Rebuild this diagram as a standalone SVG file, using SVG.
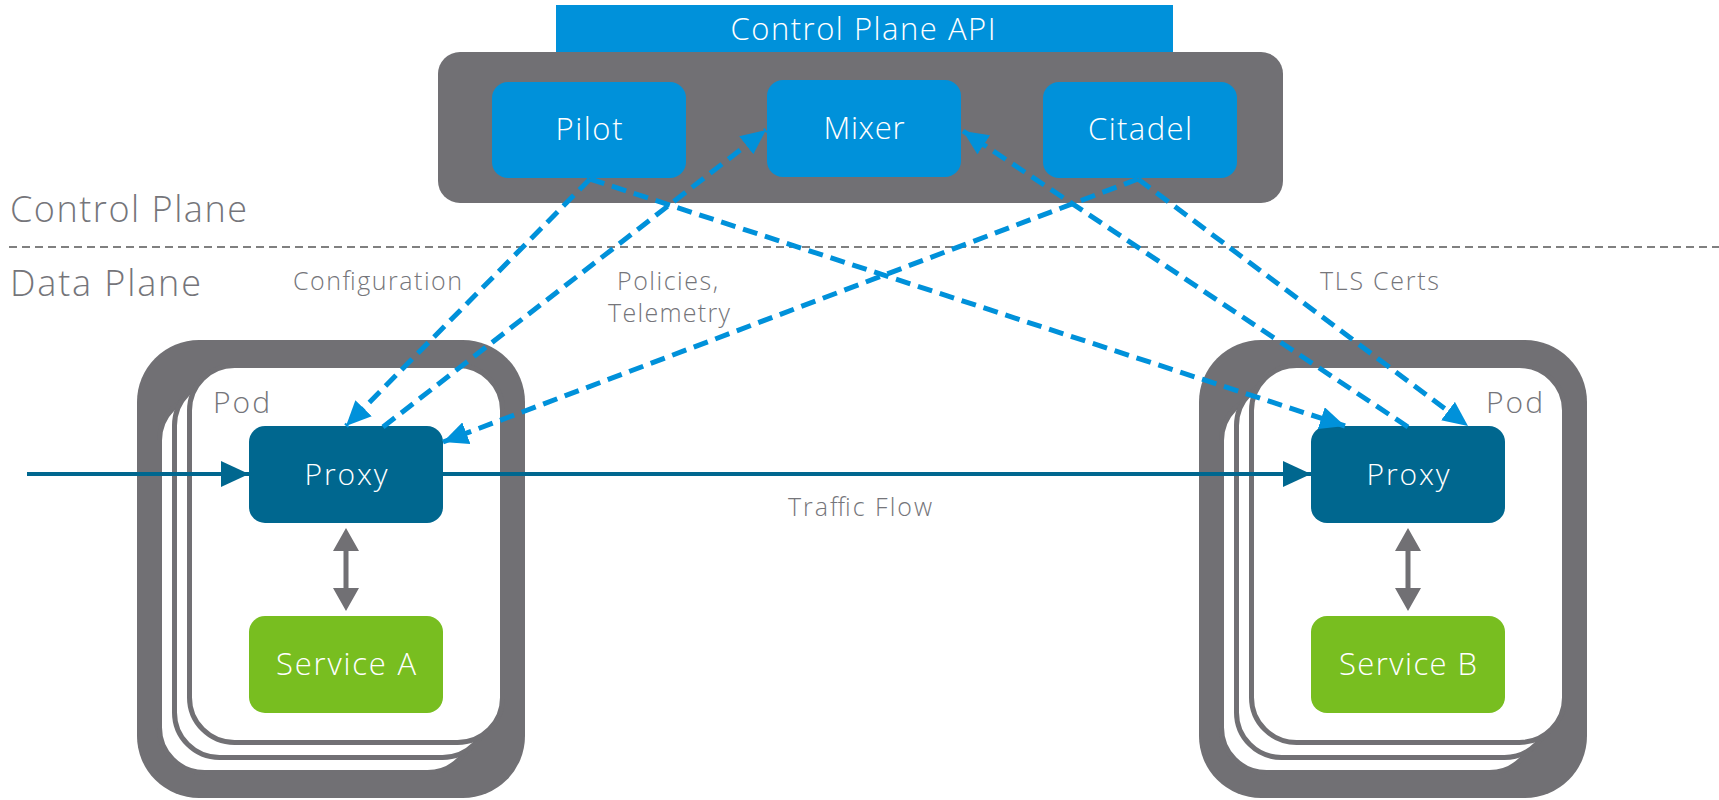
<svg xmlns="http://www.w3.org/2000/svg" width="1719" height="800" viewBox="0 0 1719 800">
<style>
text{font-family:"Open Sans","Liberation Sans",sans-serif;font-weight:300}
.wt{fill:#ffffff;text-anchor:middle}
.gt{fill:#75757a}
.lbl{fill:#75757a;font-size:25px;text-anchor:middle}
.cp{fill:#0091DA}
.gray{fill:#717074}
.card{fill:#ffffff;stroke:#717074;stroke-width:5}
.proxy{fill:#00678F}
.svc{fill:#78BE20}
.dash{fill:none;stroke:#0091DA;stroke-width:5;stroke-dasharray:15 8}
.traffic{fill:none;stroke:#00678F;stroke-width:4}
</style>
<defs>
<marker id="ba" markerWidth="25" markerHeight="23" refX="25" refY="11.5" orient="auto" markerUnits="userSpaceOnUse"><path d="M0,0 L25,11.5 L0,23 Z" fill="#0091DA"/></marker>
<marker id="ta" markerWidth="28" markerHeight="26" refX="28" refY="13" orient="auto" markerUnits="userSpaceOnUse"><path d="M0,0 L28,13 L0,26 Z" fill="#00678F"/></marker>
</defs>

<g id="plane-labels">
<text class="gt" x="10" y="222" font-size="36" textLength="237" lengthAdjust="spacing">Control Plane</text>
<line x1="9" y1="247" x2="1719" y2="247" stroke="#808080" stroke-width="2" stroke-dasharray="8 5"/>
<text class="gt" x="10" y="296" font-size="36" textLength="191" lengthAdjust="spacing">Data Plane</text>
</g>

<g id="control-plane">
<rect class="cp" x="556" y="5" width="617" height="47"/>
<text class="wt" x="863" y="40" font-size="31" textLength="265" lengthAdjust="spacing">Control Plane API</text>
<rect class="gray" x="438" y="52" width="845" height="151" rx="22"/>
</g>
<g id="pilot">
<rect class="cp" x="492" y="82" width="194" height="96" rx="16"/>
<text class="wt" x="589" y="140" font-size="31" textLength="67" lengthAdjust="spacing">Pilot</text>
</g>
<g id="mixer">
<rect class="cp" x="767" y="80" width="194" height="97" rx="16"/>
<text class="wt" x="864" y="139" font-size="31" textLength="81" lengthAdjust="spacing">Mixer</text>
</g>
<g id="citadel">
<rect class="cp" x="1043" y="82" width="194" height="96" rx="16"/>
<text class="wt" x="1140" y="140" font-size="31" textLength="104" lengthAdjust="spacing">Citadel</text>
</g>

<g id="pod-a">
<rect class="gray" x="137" y="340" width="388" height="458" rx="62"/>
<rect class="card" x="159.5" y="395.5" width="313" height="377" rx="45"/>
<rect class="card" x="174.5" y="380.5" width="313" height="377" rx="45"/>
<rect class="card" x="189.5" y="365.5" width="313" height="377" rx="45"/>
<text class="gt" x="213" y="413" font-size="30" textLength="57" lengthAdjust="spacing">Pod</text>
</g>
<g id="pod-b">
<rect class="gray" x="1199" y="340" width="388" height="458" rx="62"/>
<rect class="card" x="1221.5" y="395.5" width="313" height="377" rx="45"/>
<rect class="card" x="1236.5" y="380.5" width="313" height="377" rx="45"/>
<rect class="card" x="1251.5" y="365.5" width="313" height="377" rx="45"/>
<text class="gt" x="1486" y="413" font-size="30" textLength="57" lengthAdjust="spacing">Pod</text>
</g>

<g id="proxy-a">
<rect class="proxy" x="249" y="426" width="194" height="97" rx="16"/>
<text class="wt" x="346" y="485" font-size="30" textLength="83" lengthAdjust="spacing">Proxy</text>
</g>
<g id="service-a">
<rect class="svc" x="249" y="616" width="194" height="97" rx="16"/>
<text class="wt" x="346" y="675" font-size="31" textLength="140" lengthAdjust="spacing">Service A</text>
</g>
<g id="proxy-b">
<rect class="proxy" x="1311" y="426" width="194" height="97" rx="16"/>
<text class="wt" x="1408" y="485" font-size="30" textLength="83" lengthAdjust="spacing">Proxy</text>
</g>
<g id="service-b">
<rect class="svc" x="1311" y="616" width="194" height="97" rx="16"/>
<text class="wt" x="1408" y="675" font-size="31" textLength="138" lengthAdjust="spacing">Service B</text>
</g>

<g id="connectors">
<line class="traffic" x1="27" y1="474" x2="249" y2="474" marker-end="url(#ta)"/>
<line class="traffic" x1="443" y1="474" x2="1311" y2="474" marker-end="url(#ta)"/>
<path class="gray" d="M346,528 L359,551 L348.5,551 L348.5,588 L359,588 L346,611 L333,588 L343.5,588 L343.5,551 L333,551 Z"/>
<path class="gray" d="M1408,528 L1421,551 L1410.5,551 L1410.5,588 L1421,588 L1408,611 L1395,588 L1405.5,588 L1405.5,551 L1395,551 Z"/>
<line class="dash" x1="590" y1="179" x2="346" y2="426" marker-end="url(#ba)"/>
<line class="dash" x1="383" y1="427" x2="766" y2="130" marker-end="url(#ba)"/>
<line class="dash" x1="1138" y1="179" x2="443" y2="442" marker-end="url(#ba)"/>
<line class="dash" x1="590" y1="179" x2="1345" y2="426" marker-end="url(#ba)"/>
<line class="dash" x1="1408" y1="427" x2="963" y2="131" marker-end="url(#ba)"/>
<line class="dash" x1="1138" y1="179" x2="1468" y2="426" marker-end="url(#ba)"/>
<text class="lbl" x="377.5" y="290" textLength="169" lengthAdjust="spacing">Configuration</text>
<text class="lbl" x="667.5" y="290" textLength="101" lengthAdjust="spacing">Policies,</text>
<text class="lbl" x="669" y="322" textLength="122" lengthAdjust="spacing">Telemetry</text>
<text class="lbl" x="1379.5" y="290" textLength="119" lengthAdjust="spacing">TLS Certs</text>
<text class="lbl" x="860" y="516" textLength="144" lengthAdjust="spacing">Traffic Flow</text>
</g>
</svg>
